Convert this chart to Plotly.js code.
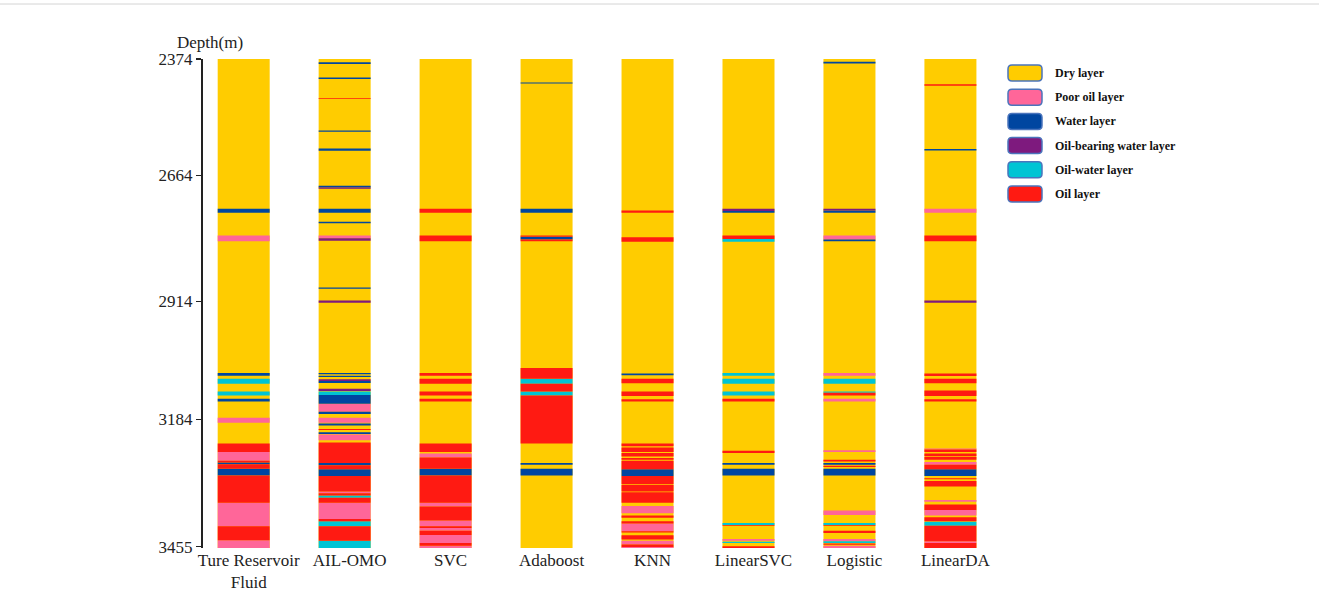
<!DOCTYPE html>
<html>
<head>
<meta charset="utf-8">
<script src="https://cdn.plot.ly/plotly-3.0.1.min.js"></script>
<style>html,body{margin:0;padding:0;background:#fff}#chart{width:1319px;height:608px}</style>
</head>
<body>
<div id="chart"></div>
<script>
// ---------- data ----------
const depthTop = 2374, depthBottom = 3455;
const tickLabels = ["2374", "2664", "2914", "3184", "3455"];
const tickPositions = [2374, 2631, 2910, 3171, 3452];

const classNames = ["Dry layer", "Poor oil layer", "Water layer", "Oil-bearing water layer", "Oil-water layer", "Oil layer"];
const classColors = ["#FFCC00", "#FF6699", "#0046A0", "#7E1A7E", "#00C4D4", "#FF1A12"];
const P = 1, W = 2, B = 3, C = 4, O = 5;

const modelNames = ["Ture Reservoir<br>Fluid", "AIL-OMO", "SVC", "Adaboost", "KNN", "LinearSVC", "Logistic", "LinearDA"];

// non-dry layers per track: [top depth, bottom depth, class]
const trueFluid = [
  [2705,2714,W],[2764,2777,P],[3068,3074,W],[3081,3092,C],[3109,3118,C],[3125,3131,W],
  [3167,3178,P],[3224,3243,O],[3243,3262,P],[3262,3266,O],[3266,3270,W],[3270,3280,O],
  [3280,3295,W],[3295,3355,O],[3355,3407,P],[3407,3438,O],[3438,3455,P]
];
const ailOmo = [
  [2381,2385,W],[2415,2418,W],[2460,2462,O],[2532,2535,W],[2572,2577,W],[2654,2658,W],
  [2658,2661,B],[2705,2714,W],[2734,2737,W],[2764,2770,P],[2770,2776,B],[2879,2882,W],
  [2908,2913,B],[3068,3071,W],[3074,3077,W],[3082,3086,B],[3086,3090,W],[3103,3108,B],
  [3109,3117,C],[3117,3136,W],[3136,3154,P],[3154,3159,W],[3167,3178,P],[3180,3184,W],
  [3192,3194,O],[3199,3203,W],[3204,3217,P],[3222,3267,O],[3267,3272,W],[3272,3281,O],
  [3281,3296,W],[3296,3330,O],[3330,3334,P],[3334,3339,O],[3339,3344,C],[3344,3355,O],
  [3355,3391,P],[3391,3396,O],[3396,3407,C],[3407,3439,O],[3439,3455,C]
];
const svc = [
  [2705,2714,O],[2764,2777,O],[3068,3074,O],[3081,3092,O],[3109,3118,O],[3125,3131,O],
  [3224,3243,O],[3246,3255,P],[3255,3280,O],[3280,3295,W],[3295,3355,O],[3355,3363,P],
  [3363,3394,O],[3394,3407,P],[3407,3411,O],[3411,3417,P],[3417,3426,O],[3426,3444,P],
  [3444,3450,O],[3450,3455,P]
];
const adaboost = [
  [2426,2428,W],[2705,2714,W],[2764,2767,O],[2767,2773,W],[2773,2777,O],[3057,3081,O],
  [3081,3092,C],[3092,3109,O],[3109,3118,C],[3118,3224,O],[3267,3271,W],[3280,3295,W]
];
const knn = [
  [2709,2714,O],[2768,2778,O],[3069,3073,W],[3081,3091,O],[3109,3119,O],[3126,3131,O],
  [3224,3230,O],[3233,3243,O],[3245,3253,O],[3256,3260,O],[3262,3281,O],[3281,3296,W],
  [3296,3314,O],[3316,3330,O],[3332,3355,O],[3362,3378,P],[3383,3388,O],[3396,3401,O],
  [3401,3418,P],[3418,3421,O],[3427,3436,O],[3439,3447,P],[3447,3453,O],[3453,3455,P]
];
const linearSvc = [
  [2705,2710,B],[2710,2714,W],[2764,2772,O],[2772,2778,C],[3068,3074,C],[3081,3092,C],
  [3109,3118,C],[3125,3131,O],[3240,3245,O],[3267,3271,W],[3280,3295,W],[3400,3404,C],
  [3404,3406,O],[3435,3439,P],[3441,3444,C],[3451,3455,O]
];
const logistic = [
  [2380,2384,W],[2705,2709,B],[2709,2714,W],[2764,2773,P],[2773,2777,W],[3068,3074,P],
  [3081,3092,C],[3109,3112,C],[3112,3118,O],[3125,3131,P],[3239,3243,P],[3260,3264,O],
  [3267,3271,W],[3273,3276,O],[3280,3295,W],[3372,3382,P],[3400,3404,C],[3404,3406,O],
  [3417,3422,O],[3435,3440,P],[3440,3444,C],[3445,3448,O],[3450,3455,P]
];
const linearDa = [
  [2430,2433,O],[2573,2576,W],[2705,2714,P],[2764,2777,O],[2908,2913,B],[3069,3075,O],
  [3081,3091,O],[3107,3119,O],[3126,3131,O],[3235,3237,P],[3237,3243,O],[3246,3252,O],
  [3254,3260,O],[3265,3271,P],[3271,3281,O],[3281,3296,W],[3301,3303,O],[3307,3319,O],
  [3349,3353,P],[3359,3371,O],[3371,3383,P],[3387,3396,O],[3397,3406,C],[3406,3440,O],
  [3440,3444,P],[3444,3455,O]
];
const tracks = [trueFluid, ailOmo, svc, adaboost, knn, linearSvc, logistic, linearDa];

// ---------- build traces ----------
const serif = "'Liberation Serif', 'Times New Roman', serif";
const barWidth = 0.515;
const traces = [];
// dry background for every track
traces.push({
  type: 'bar', x: modelNames, base: modelNames.map(() => depthTop),
  y: modelNames.map(() => depthBottom - depthTop), width: barWidth,
  marker: {color: classColors[0], line: {width: 0}}, name: classNames[0], hoverinfo: 'skip'
});
for (let c = 1; c < classNames.length; c++) {
  const xs = [], bases = [], lens = [];
  tracks.forEach((segs, i) => segs.forEach(s => {
    if (s[2] === c) { xs.push(modelNames[i]); bases.push(s[0]); lens.push(s[1] - s[0]); }
  }));
  traces.push({
    type: 'bar', x: xs, base: bases, y: lens, width: barWidth,
    marker: {color: classColors[c], line: {width: 0}}, name: classNames[c], hoverinfo: 'skip'
  });
}

// ---------- layout helpers (pixel -> paper) ----------
const L = 203, T = 59, PW = 808, PH = 489;
const X = px => (px - L) / PW;
const Y = py => (T + PH - py) / PH;
function roundRect(x0, y0, x1, y1, r) {
  const p = (a, b) => X(a).toFixed(5) + ',' + Y(b).toFixed(5);
  return 'M' + p(x0 + r, y0) + ' L' + p(x1 - r, y0) + ' Q' + p(x1, y0) + ' ' + p(x1, y0 + r) +
    ' L' + p(x1, y1 - r) + ' Q' + p(x1, y1) + ' ' + p(x1 - r, y1) +
    ' L' + p(x0 + r, y1) + ' Q' + p(x0, y1) + ' ' + p(x0, y1 - r) +
    ' L' + p(x0, y0 + r) + ' Q' + p(x0, y0) + ' ' + p(x0 + r, y0) + ' Z';
}

const shapes = [];
const annotations = [];
classNames.forEach((n, i) => {
  const top = 65 + i * 24.2;
  shapes.push({
    type: 'path', xref: 'paper', yref: 'paper', path: roundRect(1008, top, 1042, top + 16, 4),
    fillcolor: classColors[i], line: {color: '#4A74BC', width: 1.5}
  });
  annotations.push({
    xref: 'paper', yref: 'paper', x: X(1053), y: Y(top + 8), xanchor: 'left', yanchor: 'middle',
    text: '<b>' + n + '</b>', showarrow: false, font: {family: serif, size: 12, color: '#111'}
  });
});
// thin frame line at the top of the figure
shapes.push({type: 'line', xref: 'paper', yref: 'paper', x0: X(0), x1: X(1319), y0: Y(4), y1: Y(4),
  line: {color: '#d4d4d4', width: 1}});
annotations.push({
  xref: 'paper', yref: 'paper', x: X(210), y: Y(42), xanchor: 'center', yanchor: 'middle',
  text: 'Depth(m)', showarrow: false, font: {family: serif, size: 17, color: '#222'}
});

const layout = {
  width: 1319, height: 608,
  margin: {l: L, r: 1319 - L - PW, t: T, b: 608 - T - PH, pad: 0},
  paper_bgcolor: '#fff', plot_bgcolor: '#fff',
  barmode: 'overlay', showlegend: false,
  font: {family: serif, size: 17, color: '#222'},
  xaxis: {
    type: 'category', range: [-0.403, 7.6], showgrid: false, zeroline: false, showline: false,
    ticks: '', tickfont: {family: serif, size: 17, color: '#222'}, ticklabelshift: 5
  },
  yaxis: {
    range: [depthBottom, depthTop], showgrid: false, zeroline: false,
    showline: true, linecolor: '#222', linewidth: 2,
    ticks: 'outside', ticklen: 5, tickwidth: 1.5, tickcolor: '#222',
    tickvals: tickPositions, ticktext: tickLabels,
    tickfont: {family: serif, size: 17, color: '#222'}
  },
  shapes: shapes, annotations: annotations
};

Plotly.newPlot('chart', traces, layout, {staticPlot: true, displayModeBar: false});
</script>
</body>
</html>
